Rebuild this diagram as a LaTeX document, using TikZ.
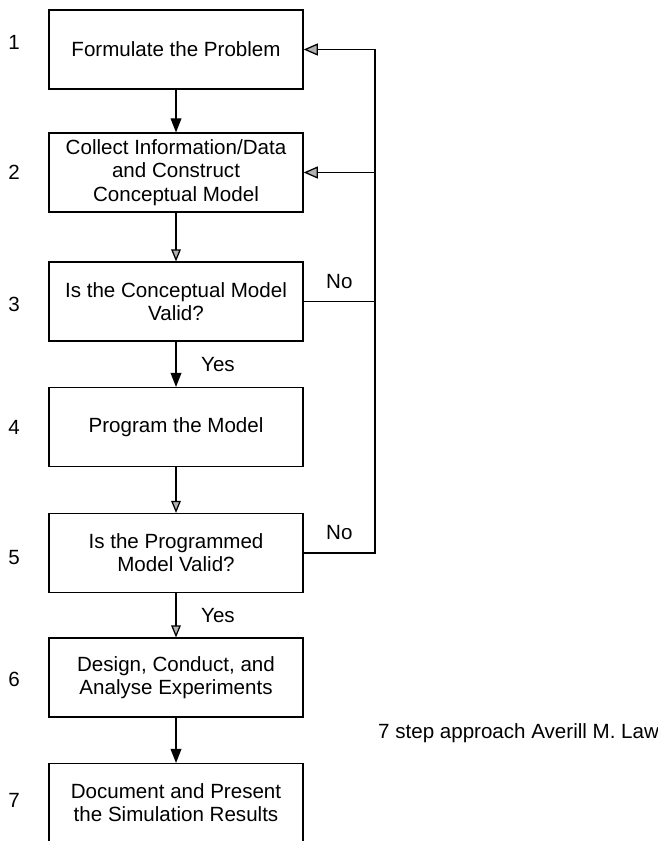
\documentclass[tikz,border=0pt]{standalone}
\usepackage{fontspec}
\setmainfont{Liberation Sans}
\usetikzlibrary{arrows.meta}

\begin{document}
\begin{tikzpicture}[
font=\fontsize{19.5}{22}\selectfont,
box/.style = {draw, line width=1.2pt, minimum width=8.47cm, minimum height=2.63cm,
            align=center, inner sep=2pt},
fwd/.style = {line width=1.2pt, -{Triangle[length=0.47cm, width=0.36cm]}},
fwdg/.style = {line width=1.2pt, -{Triangle[length=0.4cm, width=0.32cm, fill=gray!60]}},
back/.style = {line width=1.2pt, -{Triangle[length=0.47cm, width=0.4cm, fill=gray!60]}}
                ]
    \useasboundingbox (0,0) rectangle (21.933,-28.033);
    \def\cx{5.867}
    \def\nx{0.47}
    \def\rx{12.5}
    % the seven steps
    \foreach \y/\n/\t in {1.65/1/{Formulate the Problem},
                          5.75/2/{Collect Information/Data\\and Construct\\Conceptual Model},
                          10.05/3/{Is the Conceptual Model\\Valid?},
                          14.233/4/{Program the Model},
                          18.433/5/{Is the Programmed\\Model Valid?},
                          22.583/6/{Design, Conduct, and\\Analyse Experiments},
                          26.767/7/{Document and Present\\the Simulation Results}}
        \node[box] at (\cx,-\y) (s\n) {\t};
    \foreach \y/\n in {1.4/1, 5.733/2, 10.133/3, 14.233/4, 18.6/5, 22.633/6, 26.667/7}
        \node at (\nx,-\y) (n\n) {\n};
    \coordinate (fb) at (\rx,0);
    \draw [fwd] (s1) -- (s2);
    \draw [fwdg] (s2) -- (s3);
    \draw [fwd] (s3) -- node[right=7mm] (yes1) {Yes} (s4);
    \draw [fwdg] (s4) -- (s5);
    \draw [fwdg] (s5) -- node[right=7mm] (yes2) {Yes} (s6);
    \draw [fwd] (s6) -- (s7);
    % loops back
    \draw [back] (s5.east) -- node[above=3mm] (no2) {No} (fb |- s5.east)
        -- (fb |- s1.east) -- (s1.east);
    \draw [line width=1.2pt] (s3.east) -- node[above=3mm] (no1) {No} (fb |- s3.east);
    \draw [back] (fb |- s2.east) -- (s2.east);
    \node[anchor=base west, inner sep=0pt] at (12.6,-24.6) (cap) {7 step approach Averill M. Law};
\end{tikzpicture}
\end{document}
